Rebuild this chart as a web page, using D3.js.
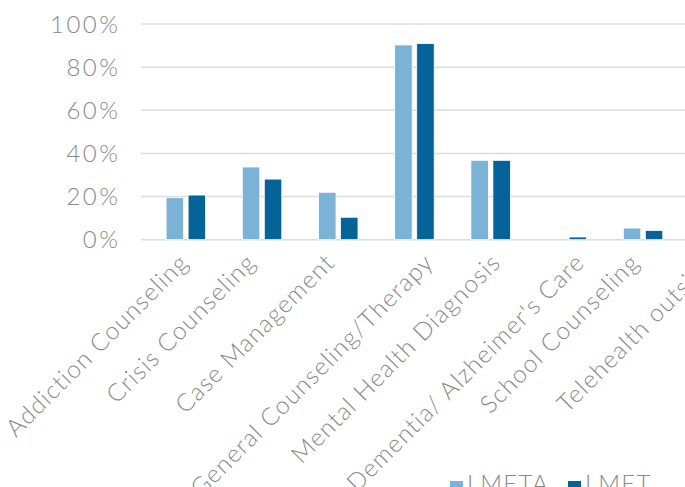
<!DOCTYPE html>
<html>
<head>
<meta charset="utf-8">
<script src="https://cdn.jsdelivr.net/npm/d3@7"></script>
<style>
  html, body { margin: 0; padding: 0; background: #fff; }
  svg { display: block; }
  text { font-family: "Lato", sans-serif; font-weight: 300; fill: #8a8a8a; letter-spacing: 1.1px; }
</style>
</head>
<body>
<svg id="chart"></svg>
<script>
const categories = [
  "Addiction Counseling",
  "Crisis Counseling",
  "Case Management",
  "General Counseling/Therapy",
  "Mental Health Diagnosis",
  "Dementia/ Alzheimer's Care",
  "School Counseling",
  "Telehealth outside"
];
const seriesNames = ["LMETA", "LMET"];
const lmeta = [0.195, 0.337, 0.220, 0.903, 0.368, 0, 0.054, null];
const lmet = [0.207, 0.281, 0.104, 0.909, 0.368, 0.0125, 0.043, null];
const yTicks = [0, 0.2, 0.4, 0.6, 0.8, 1.0];
const colors = ["#7bb3d6", "#046399"];

const width = 685;
const height = 487;

const svg = d3.select("#chart")
  .attr("width", width)
  .attr("height", height);

// the plot runs past the right edge, so the last category is cut off
const x = d3.scaleBand()
  .domain(categories)
  .range([147.5, 147.5 + 76.2 * categories.length]);

const y = d3.scaleLinear()
  .domain([0, 1])
  .range([239.7, 24]);

// gridlines
svg.append("g")
  .selectAll("line")
  .data(yTicks)
  .join("line")
  .attr("x1", 141)
  .attr("x2", width)
  .attr("y1", d => y(d))
  .attr("y2", d => y(d))
  .attr("stroke", "#dcdcdc")
  .attr("stroke-width", 1.5);

// y labels
svg.append("g")
  .selectAll("text")
  .data(yTicks)
  .join("text")
  .attr("x", 120.5)
  .attr("y", d => y(d) + 8.5)
  .attr("text-anchor", "end")
  .style("font-size", "24px")
  .style("letter-spacing", "2.5px")
  .text(d3.format(".0%"));

// bars
const data = categories.map((c, i) => ({ cat: c, values: [lmeta[i], lmet[i]] }));
const barW = 17.5;
const offsets = [-19.5, 2.5];

const groups = svg.append("g")
  .selectAll("g")
  .data(data)
  .join("g")
  .attr("transform", d => `translate(${x(d.cat) + x.bandwidth() / 2},0)`);

groups.selectAll("rect")
  .data(d => d.values.map((v, j) => ({ v, j })).filter(e => e.v))
  .join("rect")
  .attr("x", e => offsets[e.j])
  .attr("width", barW)
  .attr("y", e => y(e.v))
  .attr("height", e => y(0) - y(e.v))
  .attr("fill", e => colors[e.j])
  .attr("stroke", "#fff")
  .attr("stroke-width", 0.8);

// category labels, longer ones sit a bit further right
const labels = svg.append("g")
  .selectAll("text")
  .data(categories)
  .join("text")
  .attr("text-anchor", "end")
  .style("font-size", "24.5px")
  .text(d => d);

labels.attr("transform", function (d) {
  const span = this.getComputedTextLength() * Math.SQRT1_2;
  const dx = 4 + 0.27 * (span - 172);
  return `translate(${x(d) + x.bandwidth() / 2 + dx},264) rotate(-45)`;
});

// legend
const legendX = [450, 568];
const legend = svg.append("g")
  .selectAll("g")
  .data(seriesNames)
  .join("g")
  .attr("transform", (d, i) => `translate(${legendX[i]},481)`);

legend.append("rect")
  .attr("width", 13)
  .attr("height", 13)
  .attr("fill", (d, i) => colors[i]);

legend.append("text")
  .attr("x", 17)
  .attr("y", 11)
  .style("font-size", "24px")
  .style("letter-spacing", "1.2px")
  .text(d => d);
</script>
</body>
</html>
